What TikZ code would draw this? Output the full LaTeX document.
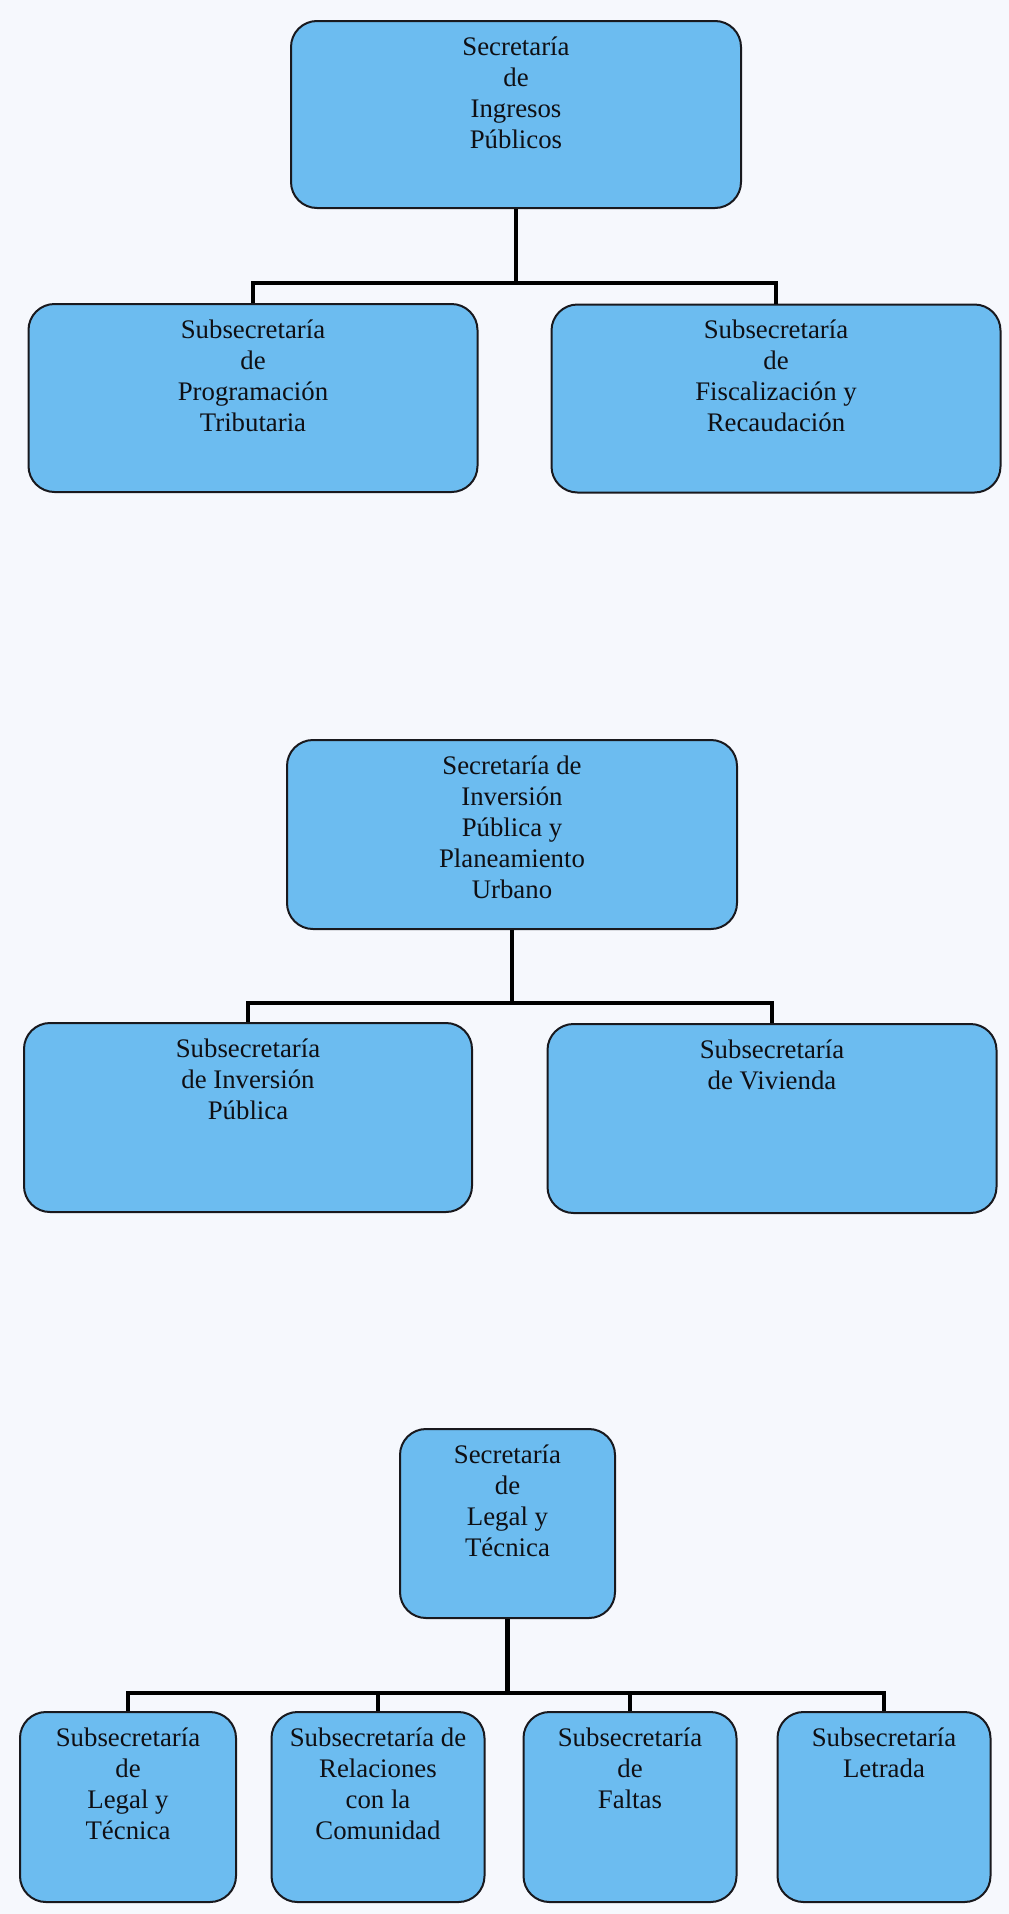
\documentclass[tikz,border=0pt]{standalone}
\usepackage{fontspec}
\setmainfont{Liberation Serif}
\definecolor{boxblue}{RGB}{108,188,240}
\definecolor{bgpaper}{RGB}{246,248,253}
\definecolor{edge}{RGB}{25,25,30}
\definecolor{ink}{RGB}{15,15,20}
\newcommand{\boxtext}[3]{\parbox[t][#1][t]{#2}{\centering\fontsize{26.8pt}{31pt}\selectfont\rule{0pt}{34pt}#3}}
\tikzset{
  orgbox/.style={draw=edge, line width=2pt, rounded corners=26pt, fill=boxblue, inner sep=0pt, text=ink},
  link/.style={draw=black, line width=4.5pt, line join=miter}
}
\begin{document}
\begin{tikzpicture}[x=1pt,y=-1pt]
\fill[bgpaper] (0,0) rectangle (1009,1914);
\useasboundingbox (0,0) rectangle (1009,1914);

% ---------- group 1 ----------
\coordinate (j1) at (515,283);
\node[orgbox] (t1) at (516,114.5) {\boxtext{187pt}{450pt}{Secretaría\\de\\Ingresos\\Públicos}};
\node[orgbox] (a1) at (253,398) {\boxtext{188pt}{449pt}{Subsecretaría\\de\\Programación\\Tributaria}};
\node[orgbox] (b1) at (776,398.5) {\boxtext{188pt}{449pt}{Subsecretaría\\de\\Fiscalización y\\Recaudación}};

% ---------- group 2 ----------
\coordinate (j2) at (510,1003);
\node[orgbox] (t2) at (512,834.5) {\boxtext{189pt}{450pt}{Secretaría de\\Inversión\\Pública y\\Planeamiento\\Urbano}};
\node[orgbox] (a2) at (248,1117.5) {\boxtext{189pt}{448pt}{Subsecretaría\\de Inversión\\Pública}};
\node[orgbox] (b2) at (772,1118.5) {\boxtext{189pt}{449pt}{Subsecretaría\\de Vivienda}};

% ---------- group 3 ----------
\coordinate (j3) at (507,1693);
\node[orgbox] (t3) at (507.5,1523.5) {\boxtext{189pt}{215pt}{Secretaría\\de\\Legal y\\Técnica}};
\node[orgbox] (c1) at (128,1807) {\boxtext{190pt}{216pt}{Subsecretaría\\de\\Legal y\\Técnica}};
\node[orgbox] (c2) at (378,1807) {\boxtext{190pt}{213pt}{Subsecretaría de\\Relaciones\\con la\\Comunidad}};
\node[orgbox] (c3) at (630,1807) {\boxtext{190pt}{213pt}{Subsecretaría\\de\\Faltas}};
\node[orgbox] (c4) at (884,1807) {\boxtext{190pt}{213pt}{Subsecretaría\\Letrada}};

% ---------- connectors ----------
\draw[link] (t1.south) -- (t1.south |- j1);
\draw[link] (a1.north) -- (a1.north |- j1) -- (b1.north |- j1) -- (b1.north);

\draw[link] (t2.south) -- (t2.south |- j2);
\draw[link] (a2.north) -- (a2.north |- j2) -- (b2.north |- j2) -- (b2.north);

\draw[link] (t3.south) -- (t3.south |- j3);
\draw[link] (c1.north) -- (c1.north |- j3) -- (c4.north |- j3) -- (c4.north);
\draw[link] (c2.north) -- (c2.north |- j3);
\draw[link] (c3.north) -- (c3.north |- j3);
\end{tikzpicture}
\end{document}
